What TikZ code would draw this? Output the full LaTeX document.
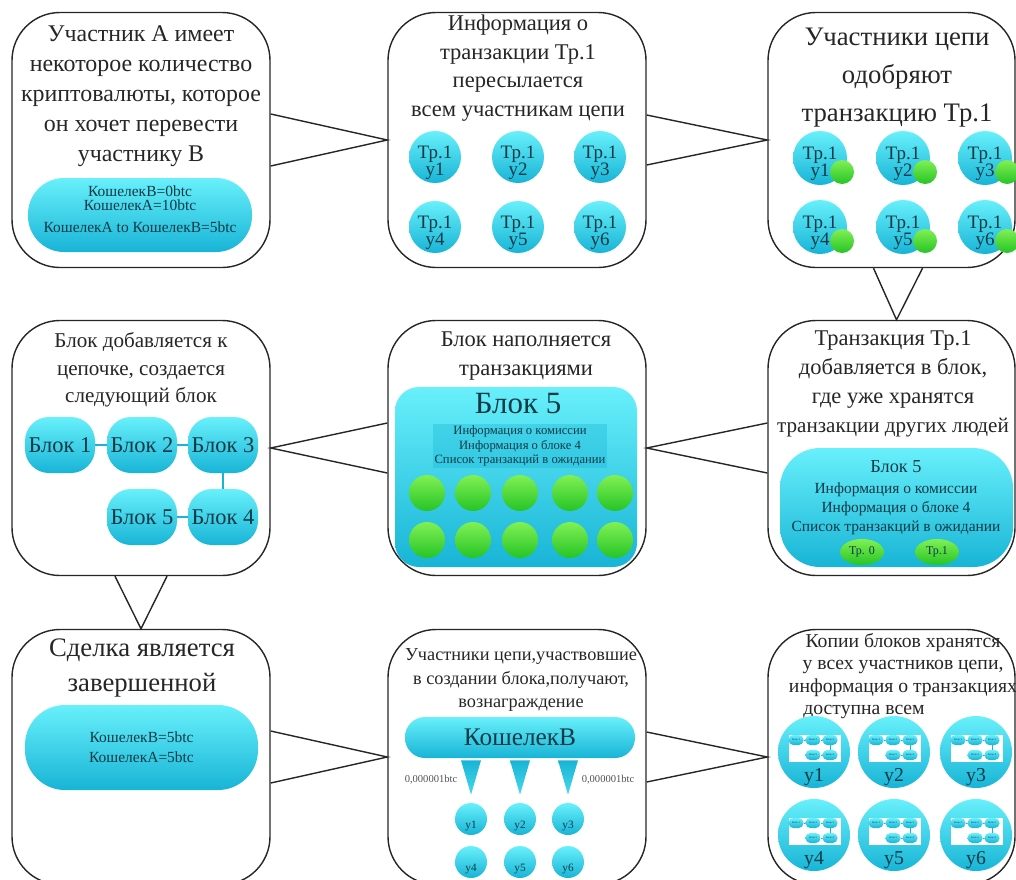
\documentclass[tikz,border=0pt]{standalone}
\usepackage{fontspec}
\setmainfont{Liberation Serif}
\usetikzlibrary{calc,shapes.geometric}
\definecolor{cyanT}{RGB}{104,240,251}
\definecolor{cyanB}{RGB}{24,180,214}
\definecolor{greenT}{RGB}{128,240,84}
\definecolor{greenB}{RGB}{38,196,38}
\definecolor{ink}{RGB}{38,38,38}
\definecolor{deep}{RGB}{16,58,70}
\newcommand{\fs}[2]{\fontsize{#1}{#2}\selectfont}
\tikzstyle{box} = [draw=ink, line width=1pt, rounded corners=12mm, minimum width=64.5mm, minimum height=63.75mm]
\tikzstyle{conn} = [draw=ink, line width=1pt]
\tikzstyle{ttl} = [text=ink, align=center, inner sep=0pt]
\tikzstyle{txt} = [text=deep, align=center, inner sep=0pt]
\tikzstyle{pill} = [top color=cyanT, bottom color=cyanB, inner sep=0pt]
\tikzstyle{disc} = [circle, top color=cyanT, bottom color=cyanB, inner sep=0pt, minimum size=13mm]
\tikzstyle{ok} = [circle, top color=greenT, bottom color=greenB, inner sep=0pt, minimum size=6mm]
\tikzstyle{blk} = [pill, rounded corners=6mm, minimum width=17.5mm, minimum height=14mm, text=deep, font={\fs{16}{16}}]
\tikzstyle{link} = [draw=cyanB, line width=1.2pt]

\begin{document}
\begin{tikzpicture}[x=0.25mm, y=-0.25mm]
        \useasboundingbox (0,0) rectangle (1016,879);
        \clip (0,0) rectangle (1016,879);

        % Stage boxes
        \node[box] (A) at (141,140) {};
        \node[box] (B) at (517,140) {};
        \node[box, minimum width=61.75mm] (C) at (891.5,140) {};
        \node[box] (D) at (141,448) {};
        \node[box] (E) at (517,448) {};
        \node[box, minimum width=61.75mm] (F) at (891.5,448) {};
        \node[box] (G) at (141,757) {};
        \node[box] (H) at (517,757) {};
        \node[box, minimum width=61.75mm] (I) at (891.5,757) {};

        % Connectors
        \draw[conn] ($(A.east)+(0,-26)$) -- (B.west) -- ($(A.east)+(0,26)$);
        \draw[conn] ($(B.east)+(0,-25)$) -- (C.west) -- ($(B.east)+(0,25)$);
        \draw[conn] ($(C.south)+(-18,0)$) -- ($(F.north)+(5,0)$) -- ($(C.south)+(31,0)$);
        \draw[conn] ($(F.west)+(0,-25)$) -- (E.east) -- ($(F.west)+(0,25)$);
        \draw[conn] ($(E.west)+(0,-25)$) -- (D.east) -- ($(E.west)+(0,25)$);
        \draw[conn] ($(D.south)+(-26,0)$) -- (G.north) -- ($(D.south)+(26,0)$);
        \draw[conn] ($(G.east)+(0,-26)$) -- (H.west) -- ($(G.east)+(0,26)$);
        \draw[conn] ($(H.east)+(0,-25)$) -- (I.west) -- ($(H.east)+(0,25)$);

        % A
        \node[ttl, font={\fs{17}{21.4}}] (At) at (141,96) {Участник А имеет\\некоторое количество\\криптовалюты, которое\\он хочет перевести\\участнику В};
        \node[pill, rounded corners=9mm, minimum width=56mm, minimum height=18.5mm] (Ap) at (140,215) {};
        \node[txt, font={\fs{11}{10.5}}] (Aw) at (140,209) {КошелекВ=0btc\\КошелекА=10btc\\[5pt]КошелекА to КошелекВ=5btc};

        % B
        \node[ttl, font={\fs{16}{20.3}}] (Bt) at (518,68) {Информация о\\транзакции Тр.1\\пересылается\\всем участникам цепи};
        \foreach \n/\x/\y in {1/435/157, 2/518/157, 3/600/157, 4/435/227, 5/518/227, 6/600/227}{
          \node[disc] (b\n) at (\x,\y) {};
          \node[txt, font={\fs{13.5}{12}}] (bt\n) at (\x,\y+6) {Тр.1\\у\n};
        }

        % C
        \node[ttl, font={\fs{19}{27}}] (Ct) at (897,78) {Участники цепи\\одобряют\\транзакцию Тр.1};
        \foreach \n/\x/\y in {1/820/158, 2/903/158, 3/985/158, 4/820/227, 5/903/227, 6/985/227}{
          \node[disc, minimum size=13.5mm] (c\n) at (\x,\y) {};
          \node[txt, font={\fs{13.5}{12}}] (ct\n) at (\x,\y+6) {Тр.1\\у\n};
          \node[ok] (g\n) at ($(c\n)+(22,14)$) {};
        }

        % F
        \node[ttl, font={\fs{16}{20.5}}] (Ft) at (893,384) {Транзакция Тр.1\\добавляется в блок,\\где уже хранятся\\{\fs{15}{20.5}транзакции других людей}};
        \node[pill, rounded corners=10mm, minimum width=58.25mm, minimum height=29.75mm] (Fp) at (896.5,507.5) {};
        \node[txt, font={\fs{13}{13}}] (Fb) at (896,467) {Блок 5};
        \node[txt, font={\fs{11}{13.5}}] (Fi) at (896,509) {Информация о комиссии\\Информация о блоке 4\\Список транзакций в ожидании};
        \node[ellipse, top color=greenT, bottom color=greenB, minimum width=11mm, minimum height=6.5mm, inner sep=0pt, text=deep, font={\fs{8.5}{8.5}}] (f0) at (862,552) {Тр. 0};
        \node[ellipse, top color=greenT, bottom color=greenB, minimum width=11mm, minimum height=6.5mm, inner sep=0pt, text=deep, font={\fs{8.5}{8.5}}] (f1) at (937,552) {Тр.1};

        % E
        \node[ttl, font={\fs{16}{20}}] (Et) at (526,356) {Блок наполняется\\транзакциями};
        \node[pill, rounded corners=6mm, minimum width=60.5mm, minimum height=45mm] (Ep) at (516,477) {};
        \node[txt, font={\fs{22}{22}}] (Eb) at (518,404) {Блок 5};
        \node[txt, fill=cyanB, fill opacity=0.35, text opacity=1, minimum width=43.5mm, minimum height=11mm, font={\fs{9}{10.5}}] (Ei) at (520,446) {Информация о комиссии\\Информация о блоке 4\\Список транзакций в ожидании};
        \foreach \n/\x/\y in {1/427/493, 2/473/493, 3/520/493, 4/570/493, 5/615/493, 6/427/540, 7/473/540, 8/520/540, 9/570/540, 10/615/540}
          \node[ok, minimum size=9mm] (e\n) at (\x,\y) {};

        % D
        \node[ttl, font={\fs{15}{19.5}}] (Dt) at (141,370) {Блок добавляется к\\цепочке, создается\\следующий блок};
        \node[blk] (k1) at (60,445) {Блок 1};
        \node[blk] (k2) at (142,445) {Блок 2};
        \node[blk] (k3) at (223,445) {Блок 3};
        \node[blk] (k4) at (223,517) {Блок 4};
        \node[blk] (k5) at (142,517) {Блок 5};
        \draw[link] (k1) -- (k2);
        \draw[link] (k2) -- (k3);
        \draw[link] (k3) -- (k4);
        \draw[link] (k5) -- (k4);

        % G
        \node[ttl, font={\fs{19}{25}}] (Gt) at (142,668) {Сделка является\\завершенной};
        \node[pill, rounded corners=10mm, minimum width=58.25mm, minimum height=21.25mm, text=deep, align=center, font={\fs{11}{14}}] (Gp) at (141.5,747.5) {КошелекВ=5btc\\КошелекА=5btc};

        % H
        \node[ttl, font={\fs{13}{16.7}}] (Ht) at (521,680) {Участники цепи,участвовшие\\в создании блока,получают,\\вознаграждение};
        \node[pill, rounded corners=5mm, minimum width=57.5mm, minimum height=10.25mm, text=deep, font={\fs{18}{18}}] (Hp) at (520,737.5) {КошелекВ};
        \foreach \n/\x/\y in {1/471/819, 2/520/819, 3/568/819, 4/471/862, 5/520/862, 6/568/862}{
          \node[disc, minimum size=8mm] (h\n) at (\x,\y) {};
          \node[txt, font={\fs{8}{8}}] (ht\n) at (\x,\y+7) {у\n};
        }
        \foreach \n in {1,2,3}
          \shade[top color=cyanB, bottom color=cyanT!60!cyanB] ($(Hp.south -| h\n)+(-10,2)$) -- ($(Hp.south -| h\n)+(10,2)$) -- ($(h\n.north)+(0,-8)$) -- cycle;
        \node[txt, text=ink!80, font={\fs{7.5}{7.5}}] (Hl) at (431,780) {0,000001btc};
        \node[txt, text=ink!80, font={\fs{7.5}{7.5}}] (Hr) at (608,780) {0,000001btc};

        % I
        \node[ttl, font={\fs{14}{16}}] (It) at (903,676) {Копии блоков хранятся\\у всех участников цепи,\\информация о транзакциях\\доступна всем\hspace*{19.5mm}};
        \foreach \n/\x/\y in {1/814/752, 2/894/752, 3/976/752, 4/814/835, 5/894/835, 6/976/835}{
          \node[disc, minimum size=18mm] (i\n) at (\x,\y) {};
          \node[fill=white, inner sep=0pt, minimum width=13mm, minimum height=6.75mm] (iw\n) at (\x+1,\y-3.5) {};
          \node[blk, minimum width=3.75mm, minimum height=2.5mm, rounded corners=1.2mm, font={\fs{2}{2}}] (ia\n) at (\x-18,\y-12) {Блок 1};
          \node[blk, minimum width=3.75mm, minimum height=2.5mm, rounded corners=1.2mm, font={\fs{2}{2}}] (ib\n) at (\x-1,\y-12) {Блок 2};
          \node[blk, minimum width=3.75mm, minimum height=2.5mm, rounded corners=1.2mm, font={\fs{2}{2}}] (ic\n) at (\x+16,\y-12) {Блок 3};
          \node[blk, minimum width=3.75mm, minimum height=2.5mm, rounded corners=1.2mm, font={\fs{2}{2}}] (id\n) at (\x+16,\y+3) {Блок 4};
          \node[blk, minimum width=3.75mm, minimum height=2.5mm, rounded corners=1.2mm, font={\fs{2}{2}}] (ie\n) at (\x-1,\y+3) {Блок 5};
          \draw[link, line width=0.3pt] (ia\n) -- (ib\n) -- (ic\n) -- (id\n) -- (ie\n);
          \node[txt, font={\fs{14}{14}}] (it\n) at (\x,\y+25) {у\n};
        }
      \end{tikzpicture}
\end{document}
